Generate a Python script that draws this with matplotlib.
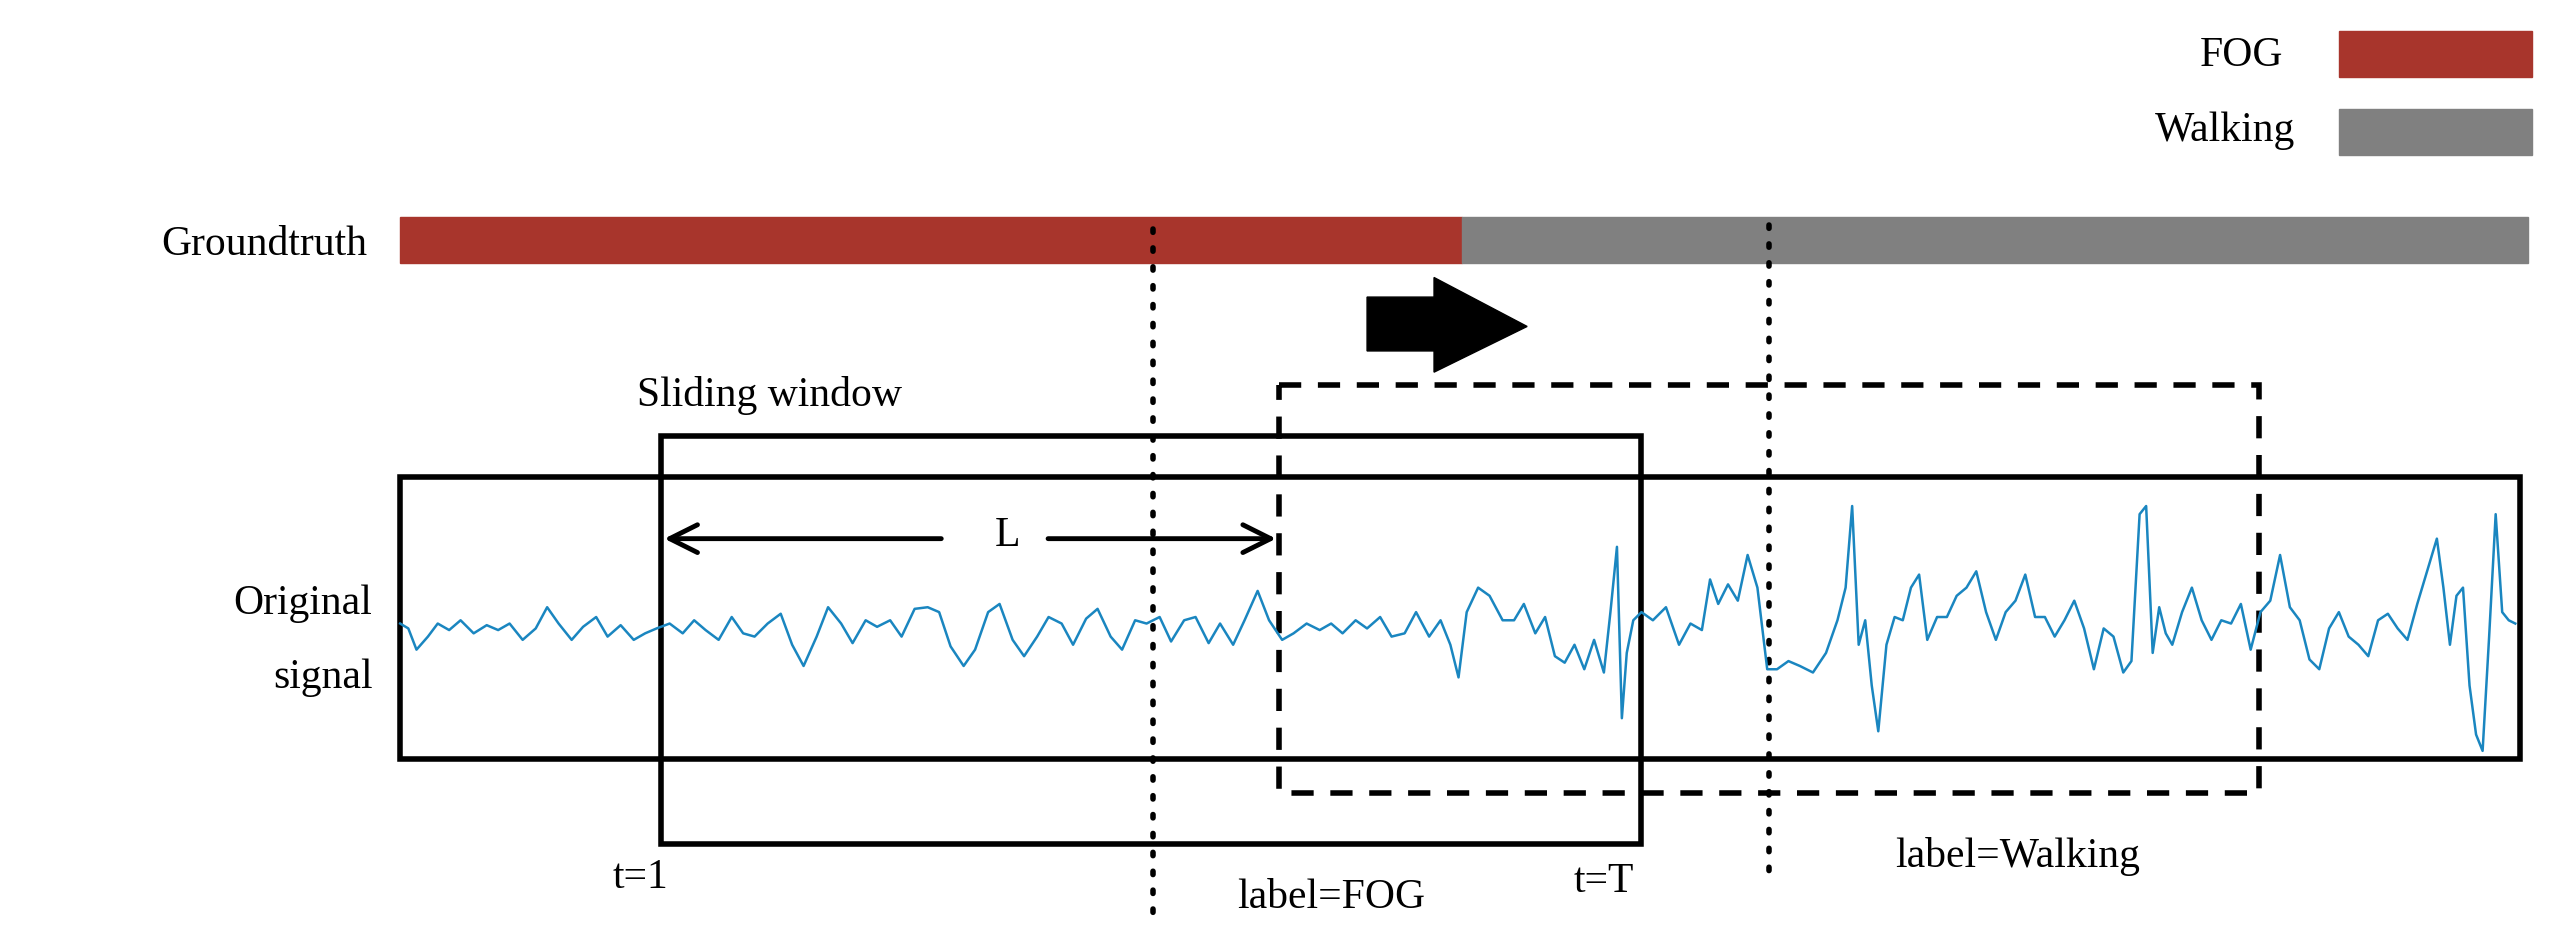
import matplotlib.pyplot as plt
from matplotlib.patches import Rectangle, Polygon

plt.rcParams['font.family'] = ['Liberation Serif', 'DejaVu Serif']

# signal samples (diagram pixel coords: x, y)
sig_x = [245,250,255,262,268,275,282,290,298,305,312,320,328,335,342,350,357,365,372,380,388,395,402,
         410,418,425,432,440,448,455,462,470,478,485,492,500,507,515,522,530,537,545,552,560,568,575,582,590,597,
         605,612,620,627,635,642,650,657,665,672,680,687,695,702,710,717,725,732,740,747,755,762,770,777,
         785,792,800,808,815,822,830,837,845,852,860,867,875,882,888,893,898,905,912,920,927,933,940,
         946,952,958,964,970,976,982,986,990,993,996,1000,1005,1012,1020,1028,1035,1042,1047,1052,1058,1064,1070,1076,1082,
         1088,1095,1102,1110,1118,1125,1130,1134,1138,1142,1146,1150,1155,1160,1165,1170,1175,1180,1186,1192,1198,1204,1210,1216,1222,
         1228,1234,1240,1246,1252,1258,1264,1270,1276,1282,1288,1294,1300,1305,1310,1314,1318,1322,1326,1330,1336,1342,1348,1354,1360,
         1366,1372,1378,1384,1390,1396,1402,1408,1414,1420,1426,1432,1438,1444,1450,1456,1462,1468,1474,1480,1486,1492,1496,1500,1504,1508,1512,1516,1520,1524,1528,1532,1536,1540]
sig_y = [382,385,398,390,382,386,380,388,383,386,382,392,385,372,382,392,384,378,390,383,392,388,385,
         382,388,380,386,392,378,388,390,382,376,395,408,390,372,382,394,380,384,380,390,373,372,375,396,408,398,
         375,370,392,402,390,378,382,395,379,373,390,398,380,382,378,393,380,378,394,382,395,380,362,380,
         392,388,382,386,382,388,380,385,378,390,388,375,390,380,395,415,375,360,365,380,380,370,388,
         378,402,406,395,410,392,412,375,335,440,400,380,375,380,372,395,382,386,355,370,358,368,340,360,410,
         410,405,408,412,400,380,360,310,395,380,420,448,395,378,380,360,352,392,378,378,365,360,350,375,
         392,375,368,352,378,378,390,380,368,385,410,385,390,412,405,315,310,400,372,388,395,375,360,380,392,
         380,382,370,398,375,368,340,372,380,404,410,385,375,390,395,402,380,376,385,392,370,350,330,360,395,365,360,420,450,460,390,315,375,380,382]

fig = plt.figure(figsize=(25.61, 9.5), dpi=100)
ax = fig.add_axes([0, 0, 1, 1])
ax.set_xlim(0, 1568)
ax.set_ylim(582, 0)
ax.axis('off')

red = '#A8352C'
grey = '#808080'
fs = 30

# legend
ax.add_patch(Rectangle((1432, 19), 118, 28, color=red))
ax.add_patch(Rectangle((1432, 67), 118, 28, color=grey))
ax.text(1398, 34, 'FOG', ha='right', va='center', fontsize=fs)
ax.text(1405, 80, 'Walking', ha='right', va='center', fontsize=fs)

# groundtruth bar
ax.add_patch(Rectangle((245, 133), 650, 28, color=red))
ax.add_patch(Rectangle((895, 133), 653, 28, color=grey))
ax.text(225, 150, 'Groundtruth', ha='right', va='center', fontsize=fs)

# dotted lines
for x, y0, y1 in [(706, 140, 565), (1083, 138, 540)]:
    ax.plot([x, x], [y0, y1], color='black', lw=4, linestyle=(0, (0.6, 2.8)), dash_capstyle='round')

# big arrow
ax.add_patch(Polygon([[837, 182], [878, 182], [878, 170], [935, 200], [878, 228], [878, 215], [837, 215]],
                     closed=True, color='black'))

# original signal box
ax.add_patch(Rectangle((245, 292), 1298, 173, fill=False, lw=4, ec='black'))
ax.plot(sig_x, sig_y, color='#1A86C0', lw=1.8)
ax.text(228, 370, 'Original', ha='right', va='center', fontsize=fs)
ax.text(228, 415, 'signal', ha='right', va='center', fontsize=fs)

# sliding window
ax.add_patch(Rectangle((405, 267), 600, 250, fill=False, lw=4, ec='black'))
ax.text(390, 242, 'Sliding window', ha='left', va='center', fontsize=fs)
ax.add_patch(Rectangle((783, 236), 600, 250, fill=False, lw=4, ec='black', linestyle=(0, (4, 3))))

# L arrow
ax.annotate('', xy=(405, 330), xytext=(578, 330), arrowprops=dict(arrowstyle='->', lw=3.5, mutation_scale=50, color='black'))
ax.annotate('', xy=(783, 330), xytext=(640, 330), arrowprops=dict(arrowstyle='->', lw=3.5, mutation_scale=50, color='black'))
ax.text(617, 328, 'L', ha='center', va='center', fontsize=fs)

ax.text(392, 538, 't=1', ha='center', va='center', fontsize=fs)
ax.text(982, 540, 't=T', ha='center', va='center', fontsize=fs)
ax.text(815, 550, 'label=FOG', ha='center', va='center', fontsize=fs)
ax.text(1235, 525, 'label=Walking', ha='center', va='center', fontsize=fs)

fig.savefig('out.png', dpi=100)
